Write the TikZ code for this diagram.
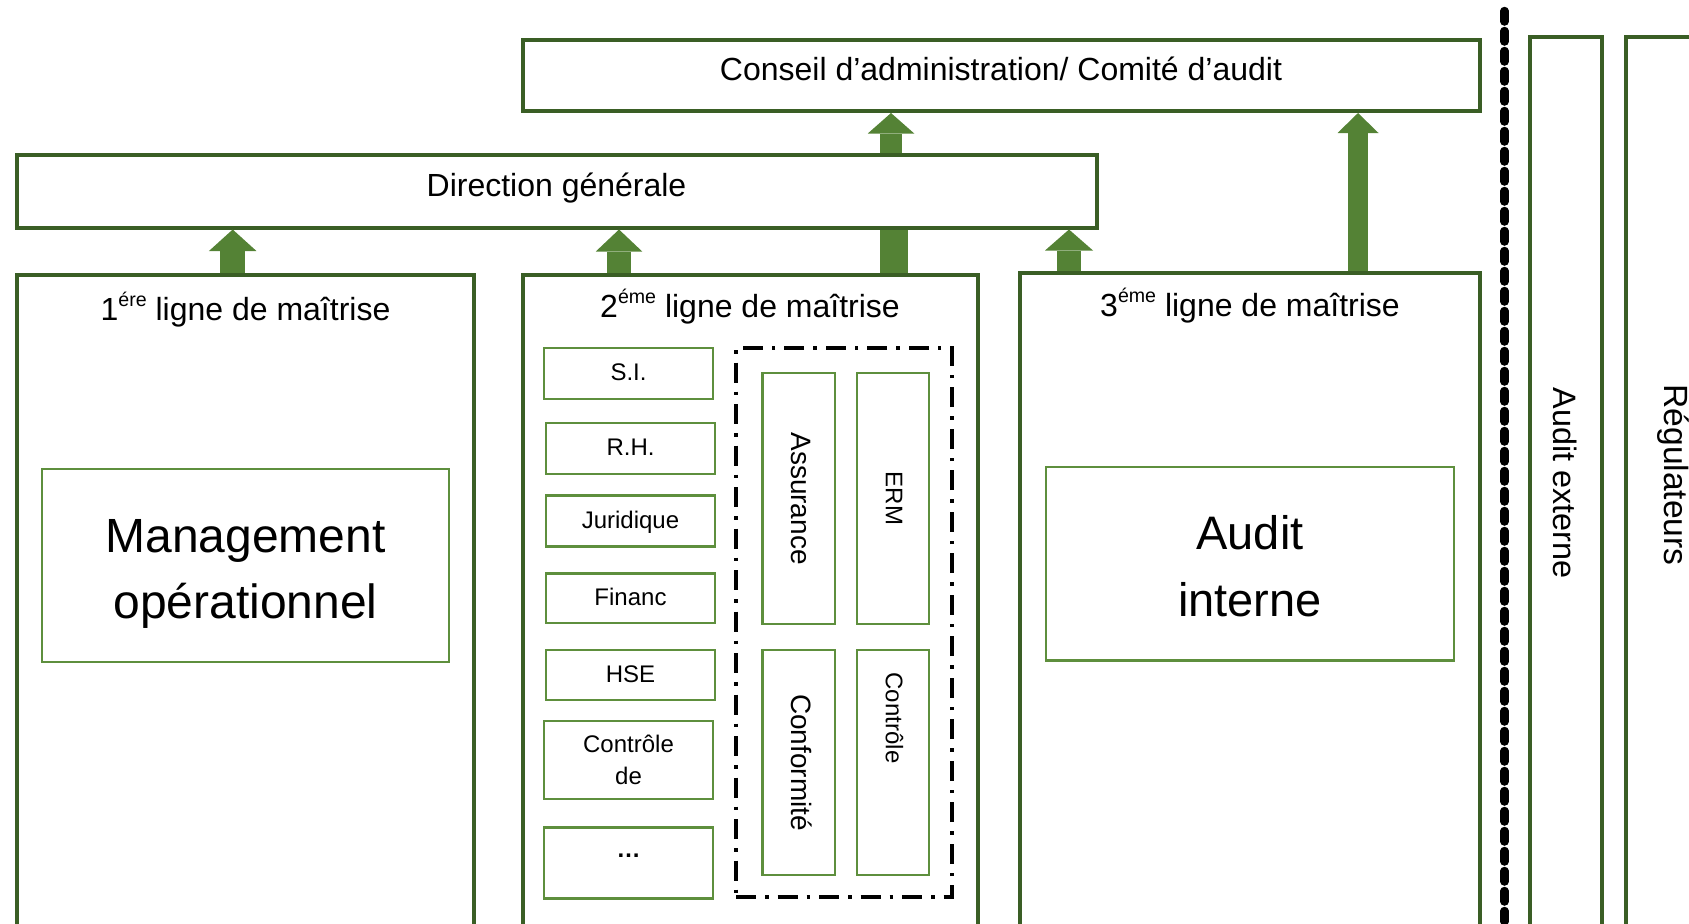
\documentclass[tikz,border=0pt]{standalone}
\usepackage{fontspec}
\setmainfont{Liberation Sans}
\usetikzlibrary{arrows.meta,fit}
\definecolor{framegreen}{HTML}{3A5E25}
\definecolor{cellgreen}{HTML}{5E8F3D}
\definecolor{liftgreen}{HTML}{548235}
% small raised ordinal suffix
\newcommand{\expo}[1]{\raisebox{0.42em}{\fontsize{9.8pt}{10pt}\selectfont #1}}
\tikzset{
  outerbox/.style={draw=framegreen, line width=2pt, inner sep=0pt},
  cell/.style={draw=cellgreen, line width=1.3pt, inner sep=0pt},
  ringbox/.style={draw=black, line width=2pt, inner sep=0pt,
    dash pattern=on 10pt off 4.5pt on 1.75pt off 4.5pt},
  txt/.style={inner sep=0pt, text=black},
  headtxt/.style={txt, anchor=base, font=\fontsize{16pt}{19pt}\selectfont},
  bigtxt/.style={txt, align=center, font=\fontsize{24pt}{33pt}\selectfont},
  smalltxt/.style={txt, text height=0.716em, text depth=0pt, font=\fontsize{12pt}{16pt}\selectfont},
  verttxt/.style={txt, rotate=-90, text height=0.716em, text depth=0pt},
  lift/.style n args={3}{draw=liftgreen, line width=#1,
    -{Triangle[width=#2, length=#3, line width=0pt]}},
  liftbar/.style={draw=liftgreen, line width=#1},
  sepline/.style={draw=black, line width=4.25pt, line cap=round,
    dash pattern=on 5.25pt off 4.75pt},
}
\begin{document}
\begin{tikzpicture}[x=0.5pt, y=-0.5pt]
\useasboundingbox (0,0) rectangle (1689,923);
\clip (0,0) rectangle (1689,923);

% governance bodies
\node[outerbox, fit={(522.5,39.5) (1479.5,111)}] (ca) {};
\node[outerbox, fit={(16.5,155) (1096.5,227.5)}] (dg) {};
\node[headtxt] (caT) at (1001,80) {Conseil d’administration/ Comité d’audit};
\node[headtxt] (dgT) at (556.5,196.5) {Direction générale};

% the three lines
\node[outerbox, fit={(16.5,275) (474,950)}] (l1) {};
\node[outerbox, fit={(522.5,275) (978,950)}] (l2) {};
\node[outerbox, fit={(1020,272.5) (1479.5,950)}] (l3) {};
\node[headtxt] (l1T) at (245.5,320) {1\expo{ére} ligne de maîtrise};
\node[headtxt] (l2T) at (750,317) {2\expo{éme} ligne de maîtrise};
\node[headtxt] (l3T) at (1250,316) {3\expo{éme} ligne de maîtrise};

% first line content
\node[cell, fit={(42,469) (449,662)}] (mo) {};
\node[bigtxt] (moT) at (245.5,574) {Management\\opérationnel};

% third line content
\node[cell, fit={(1046,467) (1454,660.5)}] (ai) {};
\node[bigtxt, font=\fontsize{23.5pt}{33.3pt}\selectfont] (aiT) at (1250,566) {Audit\\interne};

% second line: support functions
\node[cell, fit={(544,348) (713,399)}] (si) {};
\node[cell, fit={(546,423) (715,474)}] (rh) {};
\node[cell, fit={(546,495.5) (715,546.5)}] (jur) {};
\node[cell, fit={(546,573.5) (715,623)}] (fin) {};
\node[cell, fit={(546,650) (715,700)}] (hse) {};
\node[cell, fit={(544,721) (713,799)}] (cdg) {};
\node[cell, fit={(544,827.5) (713,898.5)}] (etc) {};
\node[smalltxt] (siT) at (si) {S.I.};
\node[smalltxt] (rhT) at (rh) {R.H.};
\node[smalltxt] (jurT) at (jur) {Juridique};
\node[smalltxt] (finT) at (fin) {Financ};
\node[smalltxt] (hseT) at (hse) {HSE};
\node[txt, align=center, font=\fontsize{12pt}{16pt}\selectfont] (cdgT) at (cdg) {Contrôle\\de};
\node[txt, anchor=base, font=\fontsize{12pt}{16pt}\selectfont\bfseries] (etcT) at (628.5,857) {…};

% second line: control functions group
\node[ringbox, fit={(736,347.5) (952,896.5)}] (grp) {};
\node[cell, fit={(762.5,373) (835,624)}] (ass) {};
\node[cell, fit={(857,373) (929,624)}] (erm) {};
\node[cell, fit={(762.5,650) (835,875)}] (conf) {};
\node[cell, fit={(857,650) (929,875)}] (ctrl) {};
\node[verttxt, font=\fontsize{14pt}{16pt}\selectfont] (assT) at (ass) {Assurance};
\node[verttxt, font=\fontsize{12pt}{14pt}\selectfont] (ermT) at (erm) {ERM};
\node[verttxt, font=\fontsize{14pt}{16pt}\selectfont] (confT) at (conf) {Conformité};
\node[verttxt, font=\fontsize{12pt}{14pt}\selectfont] (ctrlT) at (893,718) {Contrôle};

% external parties
\coordinate (sepA) at (1504.5,11);
\coordinate (sepB) at (1504.5,940);
\draw[sepline] (sepA) -- (sepB);
\node[outerbox, fit={(1530,37) (1601.5,950)}] (ae) {};
\node[outerbox, fit={(1626,37) (1740,950)}] (rg) {};
\node[verttxt, font=\fontsize{16.2pt}{19pt}\selectfont] (aeT) at (1561,483) {Audit externe};
\node[verttxt, font=\fontsize{16.8pt}{19pt}\selectfont] (rgT) at (1672,475) {Régulateurs};

% reporting arrows
\draw[lift={12.5pt}{23.75pt}{10.75pt}] (232.7,0 |- l1.north) -- (232.7,0 |- dg.south);
\draw[lift={11.75pt}{23.25pt}{11pt}] (619,0 |- l2.north) -- (619,0 |- dg.south);
\draw[liftbar=14pt] (894,0 |- l2.north) -- (894,0 |- dg.south);
\draw[lift={11pt}{23.25pt}{10.25pt}] (891,0 |- dg.north) -- (891,0 |- ca.south);
\draw[lift={12.2pt}{24pt}{10.5pt}] (1069,0 |- l3.north) -- (1069,0 |- dg.south);
\draw[lift={10pt}{20.5pt}{10pt}] (1358,0 |- l3.north) -- (1358,0 |- ca.south);
\end{tikzpicture}
\end{document}
